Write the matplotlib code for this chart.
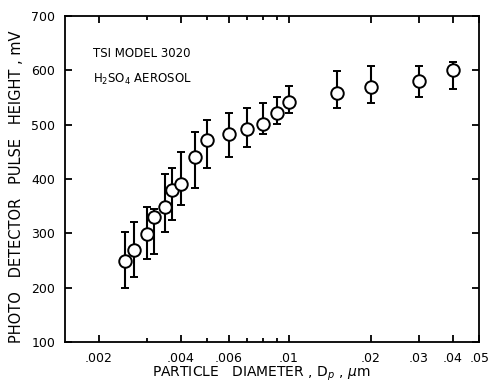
import numpy as np
import matplotlib
matplotlib.use("Agg")
import matplotlib.pyplot as plt
from matplotlib.ticker import FixedLocator, FixedFormatter, NullFormatter

# ===== data =====
diameter = [0.0025, 0.0027, 0.0030, 0.0032, 0.0035, 0.0037, 0.0040, 0.0045, 0.0050,
            0.0060, 0.0070, 0.0080, 0.0090, 0.0100, 0.0150, 0.0200, 0.0300, 0.0400]
pulse_height = [250, 270, 299, 330, 349, 380, 391, 440, 472,
                483, 492, 502, 522, 541, 559, 570, 581, 601]
err_low = [200, 220, 252, 262, 303, 324, 352, 383, 420,
           441, 459, 483, 502, 521, 531, 540, 551, 566]
err_high = [302, 320, 349, 345, 410, 420, 450, 487, 508,
            521, 530, 539, 551, 571, 599, 607, 607, 616]

x_major = [0.002, 0.004, 0.006, 0.01, 0.02, 0.03, 0.04, 0.05]
x_major_labels = [".002", ".004", ".006", ".01", ".02", ".03", ".04", ".05"]
x_minor = [0.003, 0.005, 0.007, 0.008, 0.009]
y_ticks = [100, 200, 300, 400, 500, 600, 700]

plt.rcParams["font.family"] = ["DejaVu Sans"]

fig = plt.figure(figsize=(4.96, 3.87), dpi=100)
ax = fig.add_axes([0.131, 0.116, 0.835, 0.843])

y = np.array(pulse_height)
yerr = [y - np.array(err_low), np.array(err_high) - y]
ax.errorbar(diameter, y, yerr=yerr, fmt="o", color="black", mfc="white", mec="black",
            ms=9, mew=1.4, ecolor="black", elinewidth=1.5, capsize=3, capthick=1.3, zorder=3)

ax.set_xscale("log")
ax.set_xlim(0.0015, 0.05)
ax.set_ylim(100, 700)

ax.xaxis.set_major_locator(FixedLocator(x_major))
ax.xaxis.set_major_formatter(FixedFormatter(x_major_labels))
ax.xaxis.set_minor_locator(FixedLocator(x_minor))
ax.xaxis.set_minor_formatter(NullFormatter())
ax.set_yticks(y_ticks)

ax.tick_params(which="both", direction="in", top=True, right=True, labelsize=9, width=1.3)
ax.tick_params(which="major", length=5, pad=7)
ax.tick_params(which="minor", length=3)
for s in ax.spines.values():
    s.set_linewidth(1.3)

ax.set_xlabel("PARTICLE   DIAMETER , D$_p$ , $\\mu$m", fontsize=10)
ax.xaxis.set_label_coords(0.473, -0.068)
ax.set_ylabel("PHOTO   DETECTOR   PULSE   HEIGHT , mV", fontsize=10.5)
ax.yaxis.set_label_coords(-0.10, 0.475)

ax.text(0.067, 0.875, "TSI MODEL 3020", transform=ax.transAxes, fontsize=8.5)
ax.text(0.067, 0.795, "H$_2$SO$_4$ AEROSOL", transform=ax.transAxes, fontsize=8.5)

fig.savefig("out.png", dpi=100)
